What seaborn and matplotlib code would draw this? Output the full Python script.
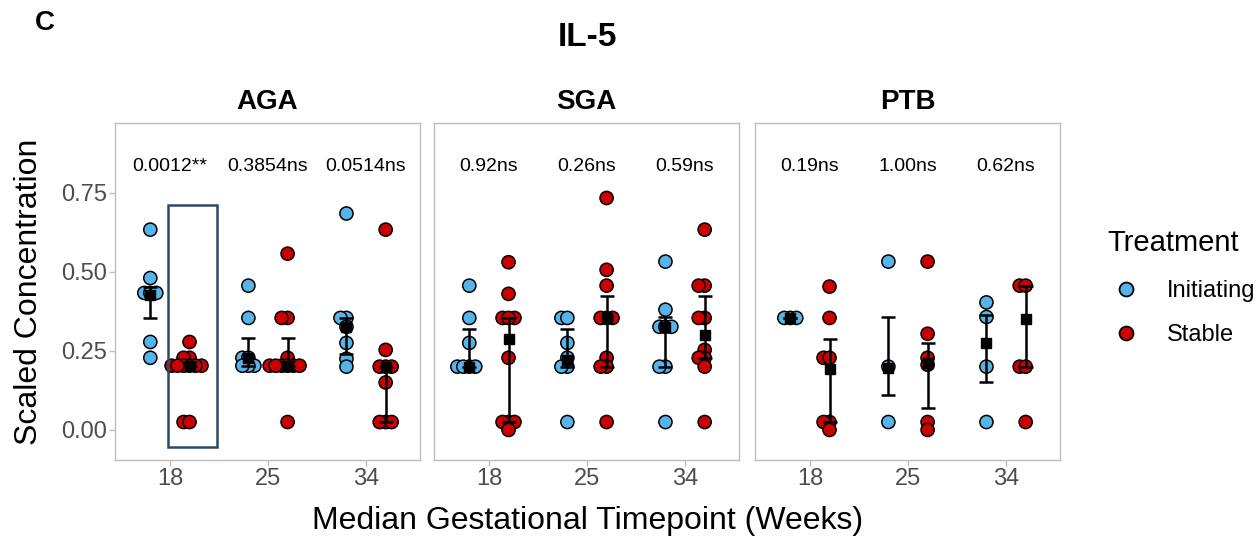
import numpy as np
import pandas as pd
import matplotlib
matplotlib.use("Agg")
import matplotlib.pyplot as plt
import seaborn as sns
from matplotlib.lines import Line2D
from matplotlib.patches import Rectangle

sns.set_theme(style="white")
plt.rcParams['font.family'] = ['Liberation Sans', 'DejaVu Sans']
plt.rcParams['text.color'] = 'black'
plt.rcParams['axes.titlecolor'] = 'black'

# ---------------- data ----------------
panels = ["AGA", "SGA", "PTB"]
timepoints = ["18", "25", "34"]
treatments = ["Initiating", "Stable"]
colors = {"Initiating": "#56B4E9", "Stable": "#CC0000"}

# individual observations (scaled concentration)
aga_18_init = [0.633, 0.48, 0.433, 0.433, 0.433, 0.278, 0.228]
aga_18_stab = [0.278, 0.228, 0.228, 0.203, 0.203, 0.203, 0.203, 0.203, 0.203, 0.025, 0.025]
aga_25_init = [0.456, 0.354, 0.228, 0.228, 0.203, 0.203, 0.203]
aga_25_stab = [0.557, 0.354, 0.354, 0.228, 0.203, 0.203, 0.203, 0.203, 0.203, 0.203, 0.025]
aga_34_init = [0.684, 0.354, 0.354, 0.326, 0.275, 0.225, 0.2]
aga_34_stab = [0.633, 0.253, 0.2, 0.2, 0.2, 0.15, 0.025, 0.025, 0.025]

sga_18_init = [0.456, 0.354, 0.275, 0.2, 0.2, 0.2, 0.2]
sga_18_stab = [0.53, 0.43, 0.354, 0.354, 0.354, 0.228, 0.025, 0.025, 0.025, 0.0]
sga_25_init = [0.354, 0.354, 0.275, 0.228, 0.2, 0.2, 0.025]
sga_25_stab = [0.733, 0.506, 0.456, 0.354, 0.354, 0.354, 0.228, 0.2, 0.2, 0.025]
sga_34_init = [0.532, 0.38, 0.326, 0.326, 0.326, 0.2, 0.2, 0.025]
sga_34_stab = [0.633, 0.456, 0.456, 0.354, 0.354, 0.253, 0.228, 0.228, 0.2, 0.025]

ptb_18_init = [0.354, 0.354, 0.354]
ptb_18_stab = [0.453, 0.354, 0.228, 0.228, 0.025, 0.025, 0.0]
ptb_25_init = [0.532, 0.2, 0.025]
ptb_25_stab = [0.532, 0.304, 0.228, 0.206, 0.025, 0.0]
ptb_34_init = [0.403, 0.357, 0.2, 0.025]
ptb_34_stab = [0.456, 0.456, 0.2, 0.2, 0.025]

# summary (centre, lower, upper) per panel, ordered 18/25/34 x Initiating/Stable
aga_center = [0.427, 0.203, 0.228, 0.203, 0.326, 0.2]
aga_lower = [0.354, 0.203, 0.203, 0.203, 0.24, 0.025]
aga_upper = [0.452, 0.215, 0.29, 0.29, 0.354, 0.2]
sga_center = [0.2, 0.288, 0.222, 0.354, 0.326, 0.3]
sga_lower = [0.2, 0.025, 0.2, 0.2, 0.2, 0.228]
sga_upper = [0.32, 0.354, 0.32, 0.424, 0.358, 0.424]
ptb_center = [0.354, 0.193, 0.195, 0.21, 0.275, 0.352]
ptb_lower = [0.354, 0.025, 0.11, 0.07, 0.15, 0.2]
ptb_upper = [0.354, 0.288, 0.357, 0.275, 0.363, 0.456]

# p-value labels
aga_pvals = ["0.0012**", "0.3854ns", "0.0514ns"]
sga_pvals = ["0.92ns", "0.26ns", "0.59ns"]
ptb_pvals = ["0.19ns", "1.00ns", "0.62ns"]

obs = {
    "AGA": [aga_18_init, aga_18_stab, aga_25_init, aga_25_stab, aga_34_init, aga_34_stab],
    "SGA": [sga_18_init, sga_18_stab, sga_25_init, sga_25_stab, sga_34_init, sga_34_stab],
    "PTB": [ptb_18_init, ptb_18_stab, ptb_25_init, ptb_25_stab, ptb_34_init, ptb_34_stab],
}
summ = {
    "AGA": (aga_center, aga_lower, aga_upper),
    "SGA": (sga_center, sga_lower, sga_upper),
    "PTB": (ptb_center, ptb_lower, ptb_upper),
}
pvals = {"AGA": aga_pvals, "SGA": sga_pvals, "PTB": ptb_pvals}

rows = []
for p in panels:
    k = 0
    for tp in timepoints:
        for tr in treatments:
            for v in obs[p][k]:
                rows.append((p, tp, tr, v))
            k += 1
df = pd.DataFrame(rows, columns=["panel", "timepoint", "treatment", "value"])

# ---------------- figure ----------------
W, H = 1259, 540
fig = plt.figure(figsize=(W / 100, H / 100), dpi=100)
lefts = [115, 434, 755]
pw = 305
top, bottom = 123, 460
axes = []
border = "#BDBDBD"
tickc = "#4D4D4D"
dodge_off = 0.2

for i, (p, lx) in enumerate(zip(panels, lefts)):
    ax = fig.add_axes([lx / W, 1 - bottom / H, pw / W, (bottom - top) / H])
    axes.append(ax)
    sub = df[df.panel == p]
    sns.swarmplot(data=sub, x="timepoint", y="value", hue="treatment",
                  order=timepoints, hue_order=treatments, palette=colors,
                  dodge=True, size=3.0, edgecolor="black", linewidth=1.1,
                  ax=ax, legend=False, zorder=3)
    c, lo, hi = summ[p]
    k = 0
    for ti, tp in enumerate(timepoints):
        for tr in treatments:
            x = ti + (-dodge_off if tr == "Initiating" else dodge_off)
            ax.errorbar([x], [c[k]], yerr=[[c[k] - lo[k]], [hi[k] - c[k]]],
                        fmt="none", ecolor="black", elinewidth=1.8,
                        capsize=4.7, capthick=1.8, zorder=5)
            ax.plot([x], [c[k]], marker="s", ms=7, color="black", zorder=6)
            k += 1
    for ti, txt in enumerate(pvals[p]):
        ax.text(ti, 0.832, txt, ha="center", va="center", fontsize=14, color="black")
    ax.set_xlim(-0.56, 2.55)
    ax.set_ylim(-0.095, 0.97)
    ax.set_xlabel("")
    ax.set_ylabel("")
    ax.set_title(p, fontsize=20, fontweight="bold", pad=10, color="black")
    for s in ax.spines.values():
        s.set_color(border)
        s.set_linewidth(1.0)
    ax.tick_params(axis="x", length=4, width=1, color=border, labelsize=17,
                   labelcolor=tickc, pad=2, bottom=True)
    ax.set_yticks([0, 0.25, 0.5, 0.75])
    if i == 0:
        ax.set_yticklabels(["0.00", "0.25", "0.50", "0.75"])
        ax.tick_params(axis="y", length=4, width=1, color=border, labelsize=17,
                       labelcolor=tickc, pad=2, left=True)
    else:
        ax.tick_params(axis="y", left=False, labelleft=False)
    ax.grid(False)

# highlight box in AGA panel
axes[0].add_patch(Rectangle((-0.023, -0.053), 0.506, 0.765, fill=False,
                            edgecolor="#2B4A66", linewidth=1.8, zorder=7))

# texts
fig.text(45 / W, 1 - 23 / H, "C", fontsize=20, fontweight="bold", ha="center", va="center")
fig.text(587.5 / W, 1 - 38 / H, "IL-5", fontsize=24, fontweight="bold", ha="center", va="center")
fig.text(587.5 / W, 1 - 521 / H, "Median Gestational Timepoint (Weeks)", fontsize=23,
         ha="center", va="center")
fig.text(29 / W, 1 - 292 / H, "Scaled Concentration", fontsize=23, rotation=90,
         ha="center", va="center")

handles = [Line2D([], [], ls="none", marker="o", ms=10, markerfacecolor=colors[t],
                  markeredgecolor="black", markeredgewidth=1.3) for t in treatments]
leg = fig.legend(handles, treatments, title="Treatment", loc="upper left",
                 bbox_to_anchor=(1098 / W, 1 - 220 / H), frameon=False, fontsize=17,
                 title_fontsize=21, labelspacing=0.95, handlelength=1.6,
                 handletextpad=0.9, alignment="left", borderaxespad=0)
for t in leg.get_texts():
    t.set_color("black")
leg.get_title().set_color("black")

# compute swarm layout with small markers, then enlarge markers (overlapping beeswarm)
fig.canvas.draw()
for ax in axes:
    for coll in ax.collections:
        if "draw" in coll.__dict__:
            del coll.__dict__["draw"]
            coll.set_sizes([90])

fig.savefig("out.png", dpi=100, facecolor="white")
